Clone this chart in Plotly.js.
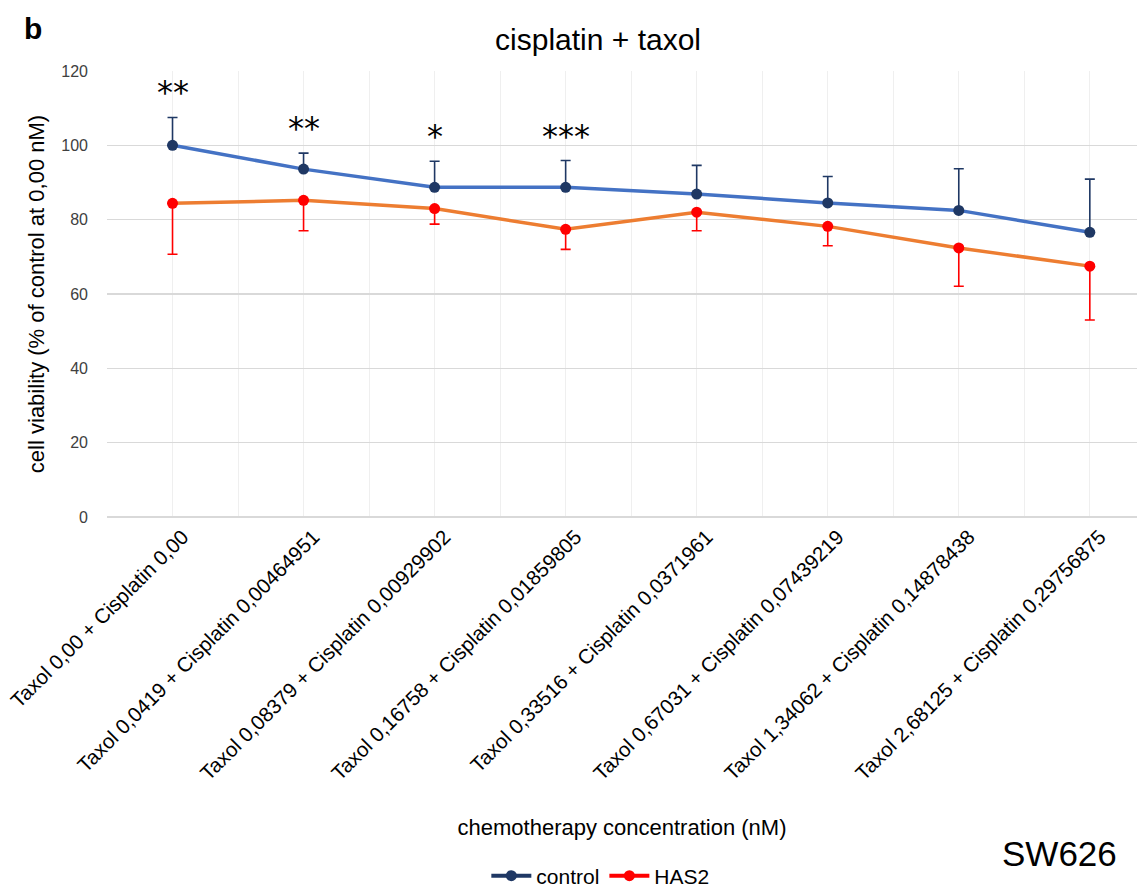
<!DOCTYPE html>
<html>
<head>
<meta charset="utf-8">
<script src="https://cdn.plot.ly/plotly-3.0.1.min.js"></script>
<style>html,body{margin:0;padding:0;background:#fff;}#chart{width:1137px;height:888px;}</style>
</head>
<body>
<div id="chart"></div>
<script>
const categories = [
  "Taxol 0,00 + Cisplatin 0,00",
  "Taxol 0,0419 + Cisplatin 0,00464951",
  "Taxol 0,08379 + Cisplatin 0,00929902",
  "Taxol 0,16758 + Cisplatin 0,01859805",
  "Taxol 0,33516 + Cisplatin 0,0371961",
  "Taxol 0,67031 + Cisplatin 0,07439219",
  "Taxol 1,34062 + Cisplatin 0,14878438",
  "Taxol 2,68125 + Cisplatin 0,29756875"
];
const controlValues = [100, 93.6, 88.7, 88.7, 86.9, 84.5, 82.5, 76.6];
const controlErrUp  = [7.5, 4.3, 7.0, 7.2, 7.7, 7.1, 11.2, 14.3];
const has2Values    = [84.4, 85.2, 83.0, 77.4, 82.0, 78.2, 72.4, 67.5];
const has2ErrDown   = [13.7, 8.2, 4.2, 5.4, 5.0, 5.2, 10.3, 14.5];
const significance  = ["**", "**", "*", "***", "", "", "", ""];
const seriesNames   = ["control", "HAS2"];

const idx = categories.map((c, i) => i);
const zeros = categories.map(() => 0);
const FONT = "Liberation Sans, Arial, sans-serif";

const traces = [
  {
    x: idx, y: controlValues, type: "scatter", mode: "lines+markers",
    name: seriesNames[0], showlegend: false,
    line: {color: "#4472C4", width: 3.5},
    marker: {color: "#1F3864", size: 11},
    error_y: {type: "data", symmetric: false, array: controlErrUp, arrayminus: zeros,
              color: "#1F3864", thickness: 1.6, width: 5}
  },
  {
    x: idx, y: has2Values, type: "scatter", mode: "lines+markers",
    name: seriesNames[1], showlegend: false,
    line: {color: "#ED7D31", width: 3.5},
    marker: {color: "#FF0000", size: 11},
    error_y: {type: "data", symmetric: false, array: zeros, arrayminus: has2ErrDown,
              color: "#FF0000", thickness: 1.6, width: 5}
  },
  {
    x: [null], y: [null], type: "scatter", mode: "lines+markers", name: seriesNames[0],
    line: {color: "#1F3864", width: 4}, marker: {color: "#1F3864", size: 11}
  },
  {
    x: [null], y: [null], type: "scatter", mode: "lines+markers", name: seriesNames[1],
    line: {color: "#FF0000", width: 4}, marker: {color: "#FF0000", size: 11}
  }
];

const annotations = [];
significance.forEach((s, i) => {
  if (!s) return;
  annotations.push({
    x: idx[i], y: controlValues[i] + controlErrUp[i], xref: "x", yref: "y",
    text: s, showarrow: false, yanchor: "bottom", yshift: 4,
    font: {family: "DejaVu Sans, sans-serif", size: 32, color: "#000"}
  });
});
annotations.push({
  x: -0.072, y: 1.096, xref: "paper", yref: "paper", text: "<b>b</b>",
  showarrow: false, xanchor: "center", yanchor: "middle",
  font: {family: FONT, size: 30, color: "#000"}
});
annotations.push({
  x: 0.925, y: -0.755, xref: "paper", yref: "paper", text: "SW626",
  showarrow: false, xanchor: "center", yanchor: "middle",
  font: {family: FONT, size: 35, color: "#000"}
});

const layout = {
  width: 1137, height: 888,
  margin: {l: 107, r: 0, t: 71, b: 371, autoexpand: false},
  paper_bgcolor: "#fff", plot_bgcolor: "#fff",
  font: {family: FONT, color: "#000"},
  title: {text: "cisplatin + taxol", x: 0.526, xref: "container", y: 0.955, yref: "container",
          xanchor: "center", yanchor: "middle", font: {family: FONT, size: 30, color: "#000"}},
  xaxis: {
    range: [-0.5, 7.36], tickmode: "array", tickvals: idx, ticktext: categories,
    tickangle: -45, tickfont: {family: FONT, size: 20.5, color: "#000"},
    ticklabelstandoff: 3, ticklabelshift: 10, ticklabeloverflow: "allow",
    showgrid: true, gridcolor: "#efefef", gridwidth: 1,
    minor: {tickmode: "linear", tick0: -0.5, dtick: 1, showgrid: true, gridcolor: "#efefef", gridwidth: 1},
    zeroline: false, showline: false, ticks: "", automargin: false,
    title: {text: "chemotherapy concentration (nM)", standoff: 36,
            font: {family: FONT, size: 22, color: "#000"}}
  },
  yaxis: {
    range: [0, 120], dtick: 20, tickfont: {family: FONT, size: 16, color: "#404040"},
    showgrid: true, gridcolor: "#d9d9d9", gridwidth: 1.5,
    zeroline: true, zerolinecolor: "#d9d9d9", zerolinewidth: 1.5,
    showline: false, ticks: "", ticklabelstandoff: 18, automargin: false,
    title: {text: "cell viability (% of control at 0,00 nM)", standoff: 10,
            font: {family: FONT, size: 22, color: "#000"}}
  },
  legend: {orientation: "h", xref: "container", yref: "container", x: 0.528, y: 0.0135,
           xanchor: "center", yanchor: "middle", font: {family: FONT, size: 21, color: "#000"},
           itemwidth: 40, bgcolor: "rgba(0,0,0,0)"},
  annotations: annotations,
  showlegend: true
};

Plotly.newPlot("chart", traces, layout, {displayModeBar: false, staticPlot: true});
</script>
</body>
</html>
